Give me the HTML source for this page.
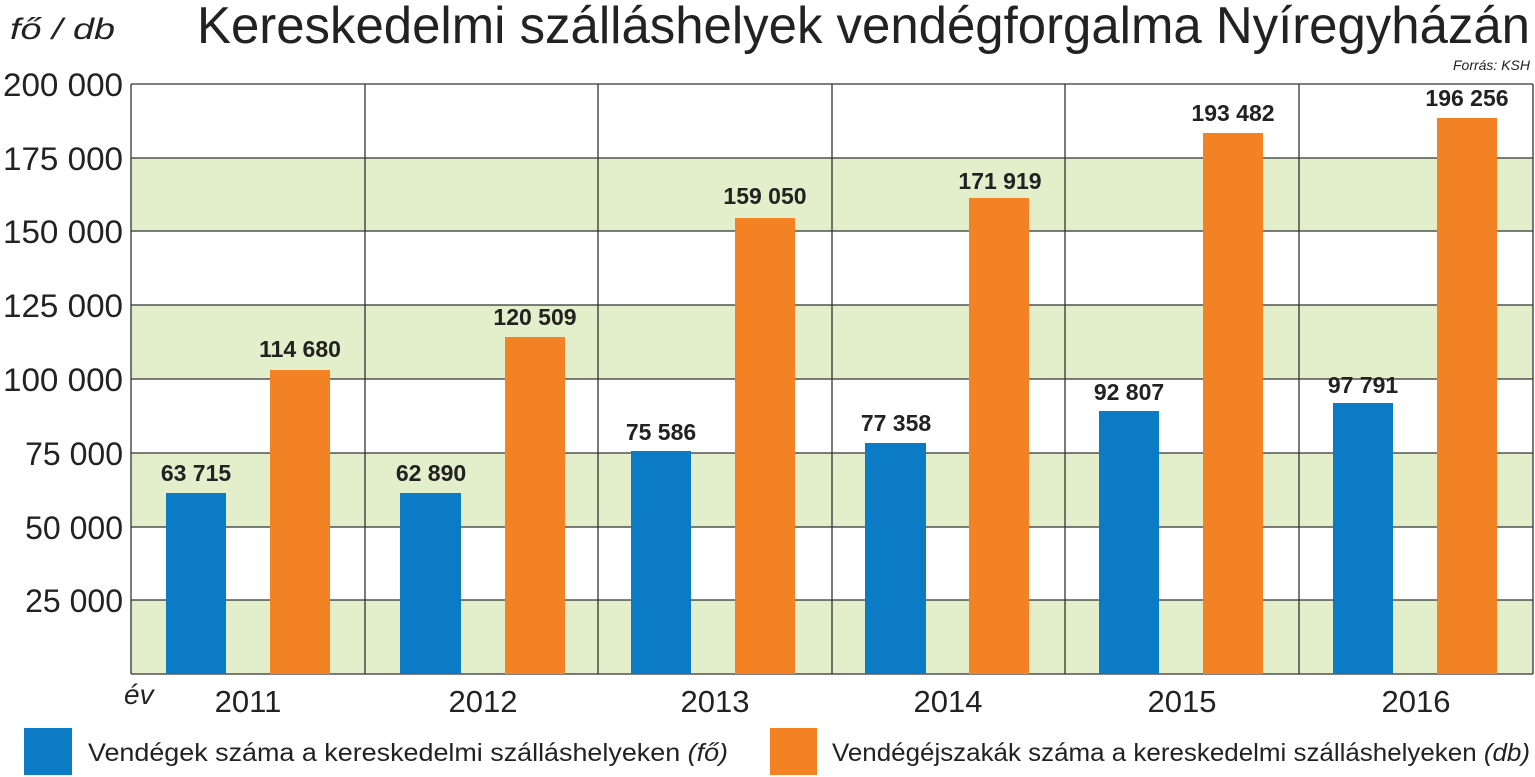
<!DOCTYPE html>
<html><head><meta charset="utf-8"><style>
html,body{margin:0;padding:0;background:#fff;}
svg{display:block;font-family:"Liberation Sans",sans-serif;}
</style></head><body>
<svg width="1535" height="777" viewBox="0 0 1535 777" xmlns="http://www.w3.org/2000/svg">
<rect width="1535" height="777" fill="#fff"/>
<text x="10" y="39" font-size="30" font-style="italic" fill="#222" textLength="105" lengthAdjust="spacingAndGlyphs">fő / db</text>
<text x="197" y="43" font-size="52" fill="#222" textLength="1333" lengthAdjust="spacingAndGlyphs">Kereskedelmi szálláshelyek vendégforgalma Nyíregyházán</text>
<text x="1530" y="70" font-size="14" font-style="italic" fill="#222" text-anchor="end">Forrás: KSH</text>
<g fill="#e3eecb">
<rect x="131" y="158" width="1402" height="73.5"/>
<rect x="131" y="305" width="1402" height="74"/>
<rect x="131" y="453" width="1402" height="74"/>
<rect x="131" y="600" width="1402" height="74"/>
</g>
<g stroke="#333" stroke-width="1.3">
<line x1="131" y1="84" x2="1533" y2="84"/>
<line x1="131" y1="158" x2="1533" y2="158"/>
<line x1="131" y1="231" x2="1533" y2="231"/>
<line x1="131" y1="305" x2="1533" y2="305"/>
<line x1="131" y1="379" x2="1533" y2="379"/>
<line x1="131" y1="453" x2="1533" y2="453"/>
<line x1="131" y1="527" x2="1533" y2="527"/>
<line x1="131" y1="600" x2="1533" y2="600"/>
<line x1="131" y1="674" x2="1533" y2="674"/>
<line x1="131" y1="84" x2="131" y2="674"/>
<line x1="365" y1="84" x2="365" y2="674"/>
<line x1="598" y1="84" x2="598" y2="674"/>
<line x1="832" y1="84" x2="832" y2="674"/>
<line x1="1065" y1="84" x2="1065" y2="674"/>
<line x1="1299" y1="84" x2="1299" y2="674"/>
<line x1="1533" y1="84" x2="1533" y2="674"/>
</g>
<g font-size="32" fill="#222" text-anchor="end">
<text x="123" y="96" textLength="120" lengthAdjust="spacingAndGlyphs">200 000</text>
<text x="123" y="170" textLength="120" lengthAdjust="spacingAndGlyphs">175 000</text>
<text x="123" y="243" textLength="120" lengthAdjust="spacingAndGlyphs">150 000</text>
<text x="123" y="317" textLength="120" lengthAdjust="spacingAndGlyphs">125 000</text>
<text x="123" y="391" textLength="120" lengthAdjust="spacingAndGlyphs">100 000</text>
<text x="123" y="465">75 000</text>
<text x="123" y="539">50 000</text>
<text x="123" y="612">25 000</text>
</g>
<g fill="#0a7bc4">
<rect x="166" y="493" width="60" height="181"/>
<rect x="400" y="493" width="61" height="181"/>
<rect x="631" y="451" width="60" height="223"/>
<rect x="865" y="443" width="61" height="231"/>
<rect x="1099" y="411" width="60" height="263"/>
<rect x="1333" y="403" width="60" height="271"/>
</g>
<g fill="#f28223">
<rect x="270" y="370" width="60" height="304"/>
<rect x="505" y="337" width="60" height="337"/>
<rect x="735" y="218" width="60" height="456"/>
<rect x="969" y="198" width="60" height="476"/>
<rect x="1203" y="133" width="60" height="541"/>
<rect x="1437" y="118" width="60" height="556"/>
</g>
<g font-size="23" font-weight="bold" fill="#222" text-anchor="middle">
<text x="196" y="481">63 715</text>
<text x="300" y="357">114 680</text>
<text x="431" y="481">62 890</text>
<text x="535" y="325">120 509</text>
<text x="661" y="440">75 586</text>
<text x="765" y="204">159 050</text>
<text x="896" y="431">77 358</text>
<text x="1000" y="189">171 919</text>
<text x="1129" y="400">92 807</text>
<text x="1233" y="121">193 482</text>
<text x="1363" y="393">97 791</text>
<text x="1467" y="106">196 256</text>
</g>
<text x="124" y="704" font-size="28" font-style="italic" fill="#222">év</text>
<g font-size="31" fill="#222" text-anchor="middle">
<text x="248" y="712">2011</text>
<text x="483" y="712">2012</text>
<text x="715" y="712">2013</text>
<text x="948" y="712">2014</text>
<text x="1182" y="712">2015</text>
<text x="1416" y="712">2016</text>
</g>
<rect x="24" y="728" width="48" height="47" fill="#0a7bc4"/>
<rect x="770" y="728" width="47" height="47" fill="#f28223"/>
<text x="88" y="761" font-size="25" fill="#222" textLength="640" lengthAdjust="spacingAndGlyphs">Vendégek száma a kereskedelmi szálláshelyeken <tspan font-style="italic">(fő)</tspan></text>
<text x="832" y="761" font-size="25" fill="#222" textLength="698" lengthAdjust="spacingAndGlyphs">Vendégéjszakák száma a kereskedelmi szálláshelyeken <tspan font-style="italic">(db)</tspan></text>
</svg>
</body></html>
